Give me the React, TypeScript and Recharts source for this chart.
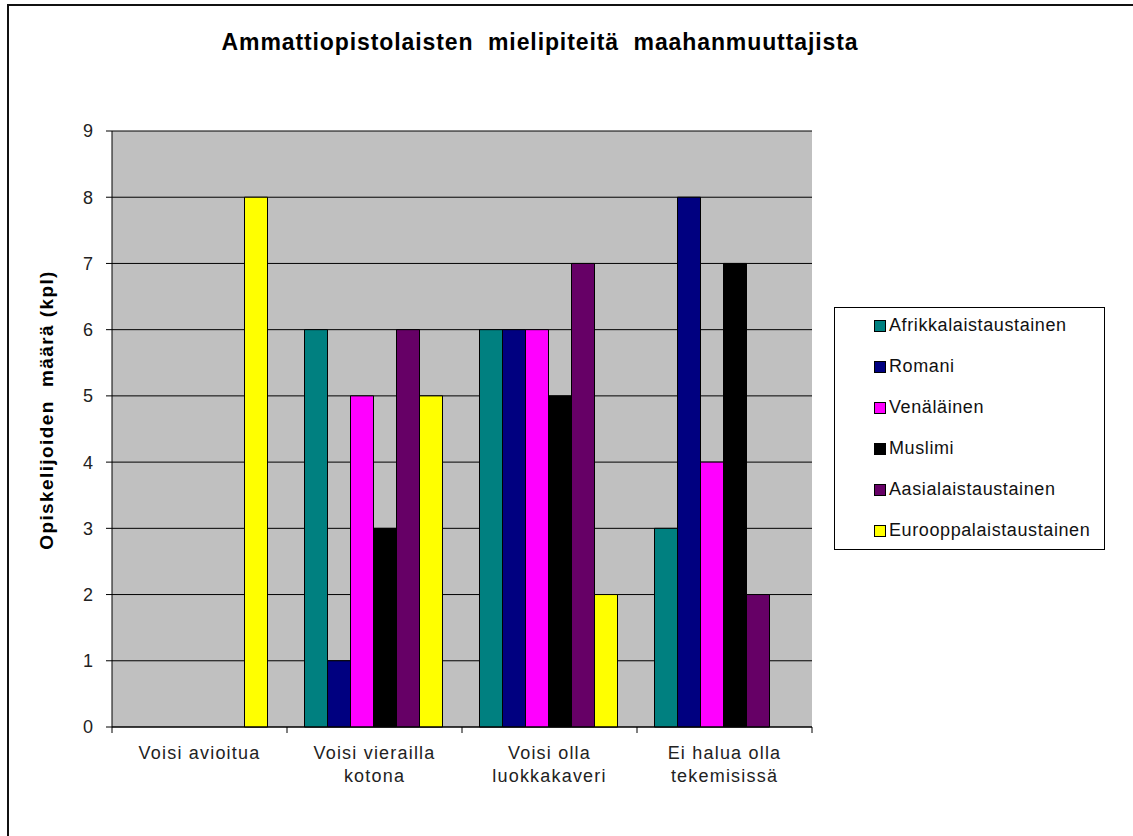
import { Bar, BarChart, CartesianGrid, XAxis, YAxis } from "recharts";

const CATEGORIES = [
  "Voisi avioitua",
  "Voisi vierailla kotona",
  "Voisi olla luokkakaveri",
  "Ei halua olla tekemisissä",
];
// tick labels as they wrap in the original
const CATEGORY_LINES = [
  ["Voisi avioitua"],
  ["Voisi vierailla", "kotona"],
  ["Voisi olla", "luokkakaveri"],
  ["Ei halua olla", "tekemisissä"],
];

const AFRIKKALAISTAUSTAINEN = [0, 6, 6, 3];
const ROMANI = [0, 1, 6, 8];
const VENALAINEN = [0, 5, 6, 4];
const MUSLIMI = [0, 3, 5, 7];
const AASIALAISTAUSTAINEN = [0, 6, 7, 2];
const EUROOPPALAISTAUSTAINEN = [8, 5, 2, 0];

const Y_TICKS = [0, 1, 2, 3, 4, 5, 6, 7, 8, 9];

const SERIES = [
  { key: "afr", name: "Afrikkalaistaustainen", values: AFRIKKALAISTAUSTAINEN, color: "#008080" },
  { key: "rom", name: "Romani", values: ROMANI, color: "#000080" },
  { key: "ven", name: "Venäläinen", values: VENALAINEN, color: "#FF00FF" },
  { key: "mus", name: "Muslimi", values: MUSLIMI, color: "#000000" },
  { key: "aas", name: "Aasialaistaustainen", values: AASIALAISTAUSTAINEN, color: "#660066" },
  { key: "eur", name: "Eurooppalaistaustainen", values: EUROOPPALAISTAUSTAINEN, color: "#FFFF00" },
];

const data = CATEGORIES.map((cat, i) => {
  const row: Record<string, string | number> = { cat };
  SERIES.forEach((s) => (row[s.key] = s.values[i]));
  return row;
});

const FONT = "'Liberation Sans', Arial, sans-serif";

function CategoryTick(props: any) {
  const { x, y, payload, index } = props;
  const lines = CATEGORY_LINES[index] ?? [payload.value];
  const half = payload.offset ?? 0;
  const axisY = y - 8;
  const last = index === CATEGORIES.length - 1;
  return (
    <g>
      <line x1={x - half} x2={x - half} y1={axisY} y2={axisY + 6} stroke="#000" />
      {last && (
        <line x1={x + half} x2={x + half} y1={axisY} y2={axisY + 6} stroke="#000" />
      )}
      <text
        x={x}
        y={axisY + 32}
        textAnchor="middle"
        fontSize={18}
        letterSpacing={1.2}
        fontFamily={FONT}
        fill="#222"
      >
        {lines.map((l: string, i: number) => (
          <tspan key={i} x={x} dy={i === 0 ? 0 : 23}>
            {l}
          </tspan>
        ))}
      </text>
    </g>
  );
}

function YLabel() {
  return (
    <text
      x={53}
      y={410}
      transform="rotate(-90 53 410)"
      textAnchor="middle"
      fontSize={19}
      fontWeight="bold"
      letterSpacing={1.4}
      fontFamily={FONT}
      fill="#000"
      style={{ whiteSpace: "pre" }}
    >
      {"Opiskelijoiden  määrä (kpl)"}
    </text>
  );
}

export default function App() {
  return (
    <div
      style={{
        position: "absolute",
        left: 0,
        top: 0,
        width: 1133,
        height: 836,
        overflow: "hidden",
        background: "#fff",
        fontFamily: FONT,
      }}
    >
      <div
        style={{
          position: "absolute",
          left: 7,
          top: 4,
          width: 1300,
          height: 1000,
          border: "2px solid #111",
        }}
      />
      <div
        style={{
          position: "absolute",
          left: 0,
          width: 1080,
          top: 29,
          textAlign: "center",
          fontSize: 23,
          letterSpacing: 0.9,
          fontWeight: "bold",
          whiteSpace: "pre",
          color: "#000",
        }}
      >
        {"Ammattiopistolaisten  mielipiteitä  maahanmuuttajista"}
      </div>
      <div style={{ position: "absolute", left: 0, top: 0 }}>
        <BarChart
          width={1133}
          height={836}
          data={data}
          margin={{ top: 131, right: 321, bottom: 39, left: 40 }}
          barCategoryGap="10%"
          barGap={0}
        >
          <CartesianGrid vertical={false} stroke="#000" fill="#C0C0C0" />
          <XAxis
            dataKey="cat"
            height={70}
            tick={<CategoryTick />}
            tickLine={false}
            interval={0}
            axisLine={{ stroke: "#000" }}
          />
          <YAxis
            width={72}
            domain={[0, 9]}
            ticks={Y_TICKS}
            interval={0}
            tickSize={6}
            tickMargin={13}
            tick={{ fill: "#222", fontSize: 18, fontFamily: FONT }}
            tickLine={{ stroke: "#000" }}
            axisLine={{ stroke: "#000" }}
            label={{ content: () => <YLabel /> }}
          />
          <YAxis
            yAxisId="frame"
            orientation="right"
            width={0}
            tick={false}
            tickLine={false}
            axisLine={{ stroke: "#808080" }}
          />
          {SERIES.map((s) => (
            <Bar
              key={s.key}
              dataKey={s.key}
              name={s.name}
              fill={s.color}
              stroke="#000"
              strokeWidth={1}
              isAnimationActive={false}
            />
          ))}
        </BarChart>
      </div>
      <div
        style={{
          position: "absolute",
          left: 834,
          top: 307,
          width: 271,
          height: 243,
          border: "1px solid #000",
          boxSizing: "border-box",
        }}
      >
        <div style={{ position: "relative", top: -3 }}>
          {SERIES.map((s) => (
            <div
              key={s.key}
              style={{
                display: "flex",
                alignItems: "center",
                height: 41,
                marginLeft: 39,
                fontSize: 18,
                letterSpacing: 0.6,
                color: "#111",
              }}
            >
              <span
                style={{
                  display: "inline-block",
                  width: 10,
                  height: 10,
                  background: s.color,
                  border: "1px solid #000",
                  marginRight: 3,
                }}
              />
              {s.name}
            </div>
          ))}
        </div>
      </div>
    </div>
  );
}
